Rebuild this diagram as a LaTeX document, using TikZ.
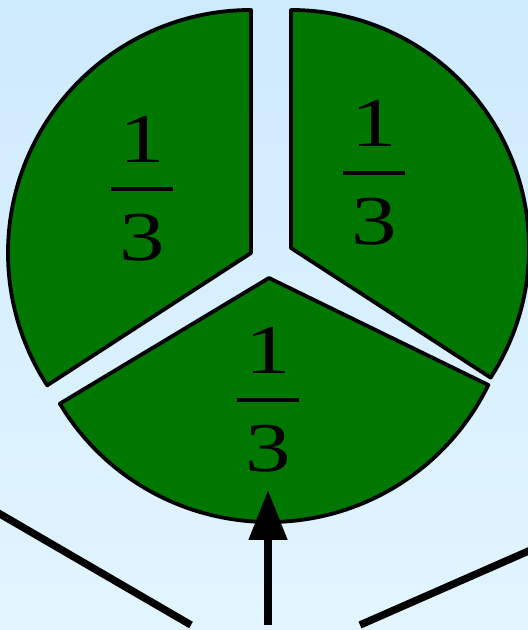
\documentclass[tikz,border=0pt]{standalone}
\usepackage{fontspec}
\setmainfont{Liberation Serif}
\usetikzlibrary{arrows.meta}
\definecolor{piegreen}{RGB}{0,119,0}
\definecolor{skytop}{RGB}{206,234,253}
\definecolor{skybot}{RGB}{226,245,255}
% stacked fraction one third
\newcommand{\onethird}{\vbox{\hbox to 23.5pt{\hss 1\hss}\kern 12pt\hrule height 2pt\kern 12pt\hbox to 23.5pt{\hss 3\hss}}}

\begin{document}
\begin{tikzpicture}[x=0.5pt,y=0.5pt,
  slice/.style={draw=black,line width=1.9pt,fill=piegreen,line join=round},
  fraclabel/.style={font=\fontsize{35}{40}\selectfont,inner sep=0pt,xscale=1.3},
  stick/.style={line width=3.7pt}]
  % Background
  \shade[top color=skytop,bottom color=skybot] (0,0) rectangle (528,630);
  \useasboundingbox (0,0) rectangle (528,630);
  \clip (0,0) rectangle (528,630);
  % Slices
  \coordinate (lefttip) at (251,377);
  \coordinate (righttip) at (291,382);
  \coordinate (bottomtip) at (269,352);
  \draw[slice] (lefttip) -- ++(90:243) arc[start angle=90,end angle=213,radius=243] -- cycle;
  \draw[slice] (righttip) -- ++(-33:238) arc[start angle=-33,end angle=90,radius=238] -- cycle;
  \draw[slice] (bottomtip) -- ++(211:244) arc[start angle=211,end angle=334,radius=244] -- cycle;
  % Labels
  \node[fraclabel] (leftthird) at (142,441) {\onethird};
  \node[fraclabel] (rightthird) at (374,457) {\onethird};
  \node[fraclabel] (bottomthird) at (268,230) {\onethird};
  % Pointer and lines
  \coordinate (arrowfoot) at (268,5);
  \coordinate (arrowtip) at (268,140);
  \draw[line width=4pt,-{Triangle[width=18.5pt,length=25pt]}] (arrowfoot) -- (arrowtip);
  \coordinate (leftend) at (-10,121.8);
  \coordinate (leftfoot) at (191,5);
  \coordinate (rightfoot) at (360,5);
  \coordinate (rightend) at (540,84);
  \draw[stick] (leftend) -- (leftfoot);
  \draw[stick] (rightfoot) -- (rightend);
\end{tikzpicture}
\end{document}
